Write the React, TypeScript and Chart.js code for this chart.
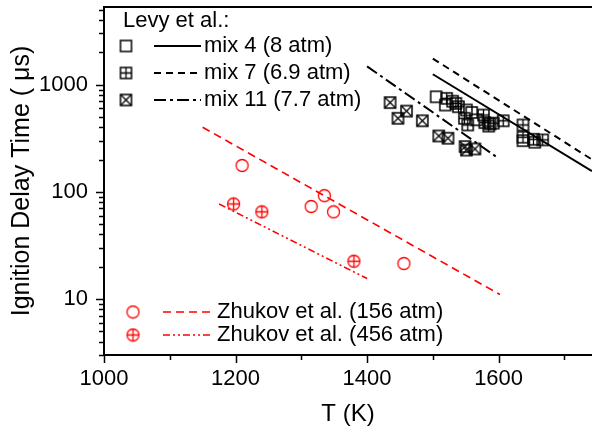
import React, { useEffect, useRef } from "react";
import { Chart, registerables } from "chart.js";

Chart.register(...registerables);

const FONT = "'Liberation Sans', Arial, Helvetica, sans-serif";

// ---- Levy et al. experimental points (T in K, tau in µs) ----
const mix4T = [1505, 1519, 1530, 1551, 1559, 1567, 1587, 1637, 1655];
const mix4Tau = [770, 645, 700, 580, 550, 470, 430, 300, 290];
const mix7T = [1521, 1535, 1539, 1548, 1553, 1577, 1579, 1585, 1592, 1607, 1637, 1637, 1653, 1667];
const mix7Tau = [745, 668, 622, 485, 420, 520, 442, 410, 437, 460, 420, 323, 309, 305];
const mix11T = [1435, 1447, 1460, 1484, 1509, 1523, 1549, 1551, 1564];
const mix11Tau = [680, 485, 566, 460, 332, 316, 264, 245, 251];

// ---- Levy et al. model lines ----
const mix4LineT = [1500, 1742];
const mix4LineTau = [1250, 156];
const mix7LineT = [1500, 1742];
const mix7LineTau = [1750, 200];
const mix11LineT = [1400, 1600];
const mix11LineTau = [1480, 205];

// ---- Zhukov et al. ----
const zh156T = [1210, 1315, 1335, 1349, 1456];
const zh156Tau = [176, 73, 92, 65, 21.4];
const zh456T = [1197, 1240, 1380];
const zh456Tau = [77, 65, 22.5];
const zh156LineT = [1150, 1602];
const zh156LineTau = [400, 11];
const zh456LineT = [1175, 1400];
const zh456LineTau = [77, 15.5];

// ---- axis ticks ----
const xMajorTicks = [1000, 1200, 1400, 1600];
const xMinorTicks = [1100, 1300, 1500, 1700];
const yMajorTicks = [10, 100, 1000];
const yMinorTicks = [3, 4, 5, 6, 7, 8, 9, 20, 30, 40, 50, 60, 70, 80, 90, 200, 300, 400, 500, 600, 700, 800, 900, 2000, 3000, 4000, 5000];

const zip = (xs: number[], ys: number[]) => xs.map((x, i) => ({ x, y: ys[i] }));

function makeMarker(kind: string, color: string): HTMLCanvasElement {
  const s = 15;
  const c = document.createElement("canvas");
  c.width = s;
  c.height = s;
  const g = c.getContext("2d")!;
  g.strokeStyle = color;
  g.lineWidth = 1.5;
  const m = 7.5;
  if (kind.startsWith("square")) {
    const a = 2, b = 13;
    g.strokeRect(a, a, b - a, b - a);
    g.lineWidth = 1.3;
    if (kind === "squarePlus") {
      g.beginPath();
      g.moveTo(m, a); g.lineTo(m, b);
      g.moveTo(a, m); g.lineTo(b, m);
      g.stroke();
    } else if (kind === "squareX") {
      g.beginPath();
      g.moveTo(a, a); g.lineTo(b, b);
      g.moveTo(b, a); g.lineTo(a, b);
      g.stroke();
    }
  } else {
    g.lineWidth = 1.3;
    g.beginPath();
    g.arc(m, m, 6, 0, Math.PI * 2);
    g.stroke();
    if (kind === "circlePlus") {
      g.beginPath();
      g.moveTo(m, 1.5); g.lineTo(m, 13.5);
      g.moveTo(1.5, m); g.lineTo(13.5, m);
      g.stroke();
    }
  }
  return c;
}

const DASH7 = [7, 5];
const DASH11 = [12, 4, 3, 4];
const RED_DASH = [8, 5];
const RED_DDOT = [7, 3, 2, 3, 2, 3];

export default function App() {
  const ref = useRef<HTMLCanvasElement | null>(null);

  useEffect(() => {
    if (!ref.current) return;
    const sq = makeMarker("square", "#000");
    const sqP = makeMarker("squarePlus", "#000");
    const sqX = makeMarker("squareX", "#000");
    const ci = makeMarker("circle", "#ff0000");
    const ciP = makeMarker("circlePlus", "#ff0000");

    const lineDs = (xs: number[], ys: number[], color: string, dash: number[], w: number) => ({
      type: "line" as const,
      data: zip(xs, ys),
      borderColor: color,
      borderWidth: w,
      borderDash: dash,
      pointRadius: 0,
      fill: false,
      tension: 0,
    });
    const ptDs = (xs: number[], ys: number[], img: HTMLCanvasElement) => ({
      type: "scatter" as const,
      data: zip(xs, ys),
      pointStyle: img,
      pointRadius: 7,
      showLine: false,
    });

    const decor = {
      id: "decor",
      afterDraw(chart: any) {
        const { ctx, chartArea } = chart;
        const { left, top, right, bottom } = chartArea;
        const x = chart.scales.x;
        const y = chart.scales.y;
        ctx.save();
        ctx.strokeStyle = "#000";
        ctx.lineWidth = 2;
        ctx.beginPath();
        ctx.moveTo(left - 1, top);
        ctx.lineTo(right, top);
        ctx.stroke();
        ctx.lineWidth = 1.5;
        ctx.beginPath();
        xMajorTicks.forEach((v) => {
          const p = Math.round(x.getPixelForValue(v)) + 0.5;
          ctx.moveTo(p, bottom); ctx.lineTo(p, bottom + 8);
        });
        xMinorTicks.forEach((v) => {
          const p = Math.round(x.getPixelForValue(v)) + 0.5;
          ctx.moveTo(p, bottom); ctx.lineTo(p, bottom + 5);
        });
        yMajorTicks.forEach((v) => {
          const p = Math.round(y.getPixelForValue(v)) + 0.5;
          ctx.moveTo(left, p); ctx.lineTo(left - 8, p);
        });
        yMinorTicks.forEach((v) => {
          const p = Math.round(y.getPixelForValue(v)) + 0.5;
          ctx.moveTo(left, p); ctx.lineTo(left - 5, p);
        });
        ctx.stroke();

        // legends
        ctx.font = `22px ${FONT}`;
        ctx.fillStyle = "#000";
        ctx.textBaseline = "middle";
        ctx.textAlign = "left";
        ctx.fillText("Levy et al.:", 123, 21);
        const levyRows = [
          { img: sq, y: 46, dash: [] as number[], text: "mix 4 (8 atm)" },
          { img: sqP, y: 73, dash: DASH7, text: "mix 7 (6.9 atm)" },
          { img: sqX, y: 100, dash: DASH11, text: "mix 11 (7.7 atm)" },
        ];
        levyRows.forEach((r) => {
          ctx.drawImage(r.img, 126 - 7.5, r.y - 7.5);
          ctx.strokeStyle = "#000";
          ctx.lineWidth = 2;
          ctx.setLineDash(r.dash);
          ctx.beginPath();
          ctx.moveTo(154, r.y);
          ctx.lineTo(201, r.y);
          ctx.stroke();
          ctx.setLineDash([]);
          ctx.fillText(r.text, 204, r.y);
        });
        const zhRows = [
          { img: ci, y: 312, dash: RED_DASH, text: "Zhukov et al. (156 atm)" },
          { img: ciP, y: 335, dash: RED_DDOT, text: "Zhukov et al. (456 atm)" },
        ];
        zhRows.forEach((r) => {
          ctx.drawImage(r.img, 133 - 7.5, r.y - 7.5);
          ctx.strokeStyle = "#ff0000";
          ctx.lineWidth = 1.6;
          ctx.setLineDash(r.dash);
          ctx.beginPath();
          ctx.moveTo(163, r.y);
          ctx.lineTo(212, r.y);
          ctx.stroke();
          ctx.setLineDash([]);
          ctx.fillText(r.text, 217, r.y);
        });
        ctx.restore();
      },
    };

    const chart = new Chart(ref.current, {
      type: "scatter",
      data: {
        datasets: [
          lineDs(mix4LineT, mix4LineTau, "#000", [], 2),
          lineDs(mix7LineT, mix7LineTau, "#000", DASH7, 2),
          lineDs(mix11LineT, mix11LineTau, "#000", DASH11, 2),
          lineDs(zh156LineT, zh156LineTau, "#ff0000", RED_DASH, 1.6),
          lineDs(zh456LineT, zh456LineTau, "#ff0000", RED_DDOT, 1.6),
          ptDs(mix4T, mix4Tau, sq),
          ptDs(mix7T, mix7Tau, sqP),
          ptDs(mix11T, mix11Tau, sqX),
          ptDs(zh156T, zh156Tau, ci),
          ptDs(zh456T, zh456Tau, ciP),
        ] as any,
      },
      options: {
        animation: false,
        responsive: false,
        maintainAspectRatio: false,
        layout: { autoPadding: false, padding: { top: 7, right: 0, bottom: 0, left: 0 } },
        plugins: { legend: { display: false }, tooltip: { enabled: false } },
        scales: {
          x: {
            type: "linear",
            min: 1000,
            max: 1742,
            afterFit: (s: any) => {
              s.height = 74;
              s.paddingLeft = 0;
              s.paddingRight = 0;
            },
            afterBuildTicks: (s: any) => { s.ticks = xMajorTicks.map((v) => ({ value: v })); },
            ticks: {
              font: { family: FONT, size: 22 },
              color: "#000",
              padding: 3,
              maxRotation: 0,
              autoSkip: false,
              callback: (v: any) => String(v),
            },
            grid: { display: false, drawTicks: true, tickLength: 8 },
            border: { display: true, color: "#000", width: 2 },
            title: {
              display: true,
              text: "T (K)",
              font: { family: FONT, size: 24 },
              color: "#000",
              padding: { top: 0, bottom: 0 },
            },
          },
          y: {
            type: "logarithmic",
            min: 3,
            max: 5300,
            afterFit: (s: any) => {
              s.width = 104;
              s.paddingTop = 0;
              s.paddingBottom = 0;
            },
            afterBuildTicks: (s: any) => { s.ticks = yMajorTicks.map((v) => ({ value: v })); },
            ticks: {
              font: { family: FONT, size: 22 },
              color: "#000",
              padding: 8,
              autoSkip: false,
              callback: (v: any) => String(v),
            },
            grid: { display: false, drawTicks: true, tickLength: 8 },
            border: { display: true, color: "#000", width: 2 },
            title: {
              display: true,
              text: "Ignition Delay Time ( μs)",
              font: { family: FONT, size: 25 },
              color: "#000",
              padding: { top: 7, bottom: 0 },
            },
          },
        },
      },
      plugins: [decor],
    } as any);
    return () => chart.destroy();
  }, []);

  return (
    <div style={{ position: "absolute", left: 0, top: 0, width: 592, height: 429, background: "#fff" }}>
      <canvas ref={ref} width={592} height={429} style={{ width: 592, height: 429, display: "block" }} />
    </div>
  );
}
